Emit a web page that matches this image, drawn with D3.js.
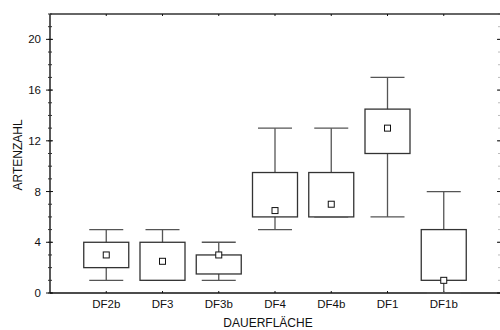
<!DOCTYPE html>
<html>
<head>
<meta charset="utf-8">
<script src="https://cdn.jsdelivr.net/npm/d3@7"></script>
<style>
  body { margin: 0; background: #fff; }
  text { font-family: "Liberation Sans", Arial, sans-serif; font-size: 11.5px; fill: #111; }
  text.title { font-size: 12px; }
</style>
</head>
<body>
<div id="chart"></div>
<script>
var categories = ['DF2b', 'DF3', 'DF3b', 'DF4', 'DF4b', 'DF1', 'DF1b'];
var whiskerLow = [1, 1, 1, 5, 6, 6, 0];
var whiskerHigh = [5, 5, 4, 13, 13, 17, 8];
var boxLow = [2, 1, 1.5, 6, 6, 11, 1];
var boxHigh = [4, 4, 3, 9.5, 9.5, 14.5, 5];
var centre = [3, 2.5, 3, 6.5, 7, 13, 1];
var yTicks = [0, 4, 8, 12, 16, 20];

var width = 500, height = 330;
var margin = { top: 14, right: 0, bottom: 37, left: 50 };
var w = width - margin.left - margin.right, h = height - margin.top - margin.bottom;

var svg = d3.select("#chart").append("svg").attr("width", width).attr("height", height);
var g = svg.append("g").attr("transform", "translate(" + margin.left + "," + margin.top + ")");

var x = d3.scalePoint().domain(categories).range([0, w]).padding(1);
var y = d3.scaleLinear().domain([0, 22]).range([h, 0]);

var minor = d3.range(0, 23, 1);

// left axis
g.append("line").attr("x1", 0).attr("x2", 0).attr("y1", 0).attr("y2", h).attr("stroke", "#222").attr("stroke-width", 1.5);
g.selectAll(".minorL").data(minor).enter().append("line")
    .attr("x1", -2).attr("x2", 2).attr("y1", function(d) { return y(d); }).attr("y2", function(d) { return y(d); })
    .attr("stroke", "#333");
g.selectAll(".majorL").data(yTicks).enter().append("line")
    .attr("x1", -4).attr("x2", 3).attr("y1", function(d) { return y(d); }).attr("y2", function(d) { return y(d); })
    .attr("stroke", "#111");
g.selectAll(".ylab").data(yTicks).enter().append("text")
    .attr("x", -9).attr("y", function(d) { return y(d); }).attr("dy", "0.35em")
    .attr("text-anchor", "end").text(function(d) { return d; });

// right side ticks
g.selectAll(".minorR").data(minor).enter().append("line")
    .attr("x1", w - 2).attr("x2", w).attr("y1", function(d) { return y(d); }).attr("y2", function(d) { return y(d); })
    .attr("stroke", "#bbb");
g.selectAll(".majorR").data(yTicks).enter().append("line")
    .attr("x1", w - 3).attr("x2", w).attr("y1", function(d) { return y(d); }).attr("y2", function(d) { return y(d); })
    .attr("stroke", "#111");

// top and bottom axes
g.append("line").attr("x1", 0).attr("x2", w).attr("y1", 0).attr("y2", 0).attr("stroke", "#333").attr("stroke-width", 1.5);
g.append("line").attr("x1", 0).attr("x2", w).attr("y1", h).attr("y2", h).attr("stroke", "#111").attr("stroke-width", 1.5);
g.selectAll(".tickT").data(categories).enter().append("line")
    .attr("x1", function(d) { return x(d); }).attr("x2", function(d) { return x(d); })
    .attr("y1", 0).attr("y2", 2).attr("stroke", "#111");
g.selectAll(".tickB").data(categories).enter().append("line")
    .attr("x1", function(d) { return x(d); }).attr("x2", function(d) { return x(d); })
    .attr("y1", h - 2).attr("y2", h).attr("stroke", "#111");
g.selectAll(".xlab").data(categories).enter().append("text")
    .attr("x", function(d) { return x(d); }).attr("y", h + 15)
    .attr("text-anchor", "middle").text(function(d) { return d; });

// boxes
var boxW = 45, capW = 34;
var b = g.selectAll(".box").data(categories).enter().append("g").attr("class", "box");

b.append("line")
    .attr("x1", function(d) { return x(d); }).attr("x2", function(d) { return x(d); })
    .attr("y1", function(d, i) { return y(whiskerLow[i]); }).attr("y2", function(d, i) { return y(whiskerHigh[i]); })
    .attr("stroke", "#555").attr("stroke-width", 1.3);
b.append("line")
    .attr("x1", function(d) { return x(d) - capW / 2; }).attr("x2", function(d) { return x(d) + capW / 2; })
    .attr("y1", function(d, i) { return y(whiskerHigh[i]); }).attr("y2", function(d, i) { return y(whiskerHigh[i]); })
    .attr("stroke", "#555").attr("stroke-width", 1.3);
b.append("line")
    .attr("x1", function(d) { return x(d) - capW / 2; }).attr("x2", function(d) { return x(d) + capW / 2; })
    .attr("y1", function(d, i) { return y(whiskerLow[i]); }).attr("y2", function(d, i) { return y(whiskerLow[i]); })
    .attr("stroke", "#555").attr("stroke-width", 1.3);
b.append("rect")
    .attr("x", function(d) { return x(d) - boxW / 2; }).attr("width", boxW)
    .attr("y", function(d, i) { return y(boxHigh[i]); })
    .attr("height", function(d, i) { return y(boxLow[i]) - y(boxHigh[i]); })
    .attr("fill", "#fff").attr("stroke", "#333").attr("stroke-width", 1.3);
b.append("rect")
    .attr("x", function(d) { return x(d) - 3; }).attr("width", 6)
    .attr("y", function(d, i) { return y(centre[i]) - 3; }).attr("height", 6)
    .attr("fill", "#fff").attr("stroke", "#111").attr("stroke-width", 1);

// axis titles
svg.append("text").attr("class", "title").attr("x", 268).attr("y", 327).attr("text-anchor", "middle").text("DAUERFLÄCHE");
svg.append("text").attr("class", "title").attr("transform", "translate(22,155) rotate(-90)")
    .attr("text-anchor", "middle").text("ARTENZAHL");
</script>
</body>
</html>
